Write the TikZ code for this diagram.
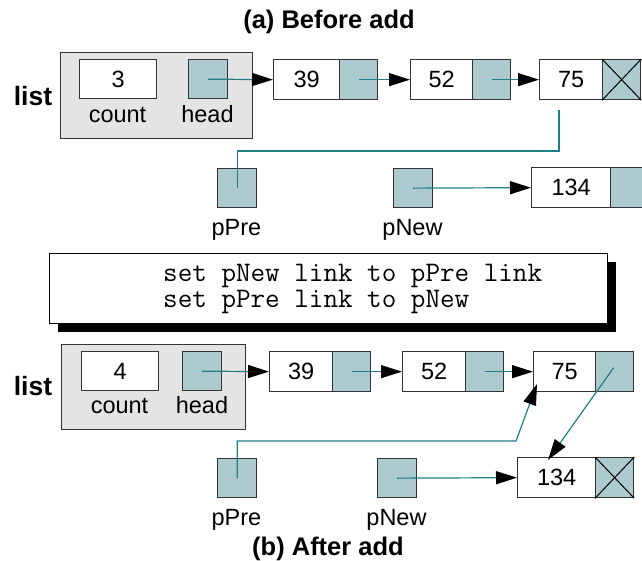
\documentclass[tikz,border=0pt]{standalone}
\usepackage{fontspec}
\setmainfont{Liberation Sans}
\usetikzlibrary{arrows.meta,shadows}
\definecolor{linecol}{HTML}{1F7F86}
\definecolor{linkfill}{HTML}{ADCBCE}
\definecolor{boxgray}{HTML}{E4E4E4}
\definecolor{edgecol}{HTML}{333333}
\tikzset{
  lab/.style={font=\fontsize{23.5}{28}\selectfont, inner sep=0pt},
  cell/.style={draw=edgecol, line width=1.3pt, fill=white, minimum height=40pt,
     inner sep=0pt, anchor=north west, font=\fontsize{23.5}{28}\selectfont},
  linkcell/.style={cell, fill=linkfill, minimum width=38pt},
  sq/.style={cell, fill=linkfill, minimum width=39pt, minimum height=39pt},
  graybox/.style={draw=edgecol, line width=1.3pt, fill=boxgray, inner sep=0pt, anchor=north west},
  ptr/.style={draw=linecol, line width=1.2pt, -{Triangle[length=21pt,width=13pt,color=black]}},
  wire/.style={draw=linecol, line width=1.2pt},
  xmark/.style={draw=black, line width=1pt},
  titl/.style={font=\bfseries\fontsize{25.5}{30}\selectfont, inner sep=0pt, anchor=base},
  listlab/.style={font=\bfseries\fontsize{26.5}{30}\selectfont, inner sep=0pt, anchor=base},
  codebox/.style={draw=black, line width=1pt, fill=white, inner sep=0pt, anchor=north west,
     drop shadow={shadow xshift=8pt, shadow yshift=-8pt, fill=black, opacity=1}},
  codetext/.style={font=\ttfamily\fontsize{28.3}{30}\selectfont, inner sep=0pt, anchor=base west}
}
\begin{document}
\begin{tikzpicture}[x=1pt,y=-1pt]
\useasboundingbox (0,0) rectangle (642,560);
\clip (0,0) rectangle (642,560);

% ---------- (a) Before add ----------
\node[titl] (titleA) at (329,28) {(a) Before add};
\node[listlab] (listA) at (33,105) {list};
\node[graybox, minimum width=192pt, minimum height=86pt] (boxA) at (60,52) {};
\node[cell, minimum width=77pt, minimum height=39pt] (countA) at (79,59) {3};
\node[sq] (headA) at (188,59) {};
\node[lab, anchor=base] (countlabA) at (117.5,122) {count};
\node[lab, anchor=base] (headlabA) at (207.5,122) {head};

\node[cell, minimum width=66pt] (d39a) at (273,59) {39};
\node[linkcell] (l39a) at (339,59) {};
\node[cell, minimum width=62pt] (d52a) at (410,59) {52};
\node[linkcell] (l52a) at (472,59) {};
\node[cell, minimum width=63pt] (d75a) at (539,59) {75};
\node[linkcell] (l75a) at (602,59) {};
\draw[xmark] (l75a.north west) -- (l75a.south east) (l75a.north east) -- (l75a.south west);

\node[sq] (pPreA) at (217,168) {};
\node[sq] (pNewA) at (393,168) {};
\node[lab, anchor=base] (pPrelabA) at (236.5,235) {pPre};
\node[lab, anchor=base] (pNewlabA) at (412.5,235) {pNew};
\node[cell, minimum width=79pt] (d134a) at (531,167) {134};
\node[linkcell] (l134a) at (610,167) {};

\draw[ptr] (headA.center) -- (d39a.west);
\draw[ptr] (l39a.center) -- (d52a.west);
\draw[ptr] (l52a.center) -- (d75a.west);
\draw[ptr] (pNewA.center) -- (d134a.west);
\coordinate (kneeA) at (559,151);
\coordinate (endA) at (559,110);
\draw[wire] (pPreA.center) |- (kneeA) -- (endA);

% ---------- code box ----------
\node[codebox, minimum width=558pt, minimum height=70pt] (code) at (49,253) {};
\node[codetext] (code1) at (163,281) {set pNew link to pPre link};
\node[codetext] (code2) at (163,307) {set pPre link to pNew};

% ---------- (b) After add ----------
\node[listlab] (listB) at (33,395) {list};
\node[graybox, minimum width=184pt, minimum height=85pt] (boxB) at (61,344) {};
\node[cell, minimum width=77pt, minimum height=39pt] (countB) at (81,351) {4};
\node[sq] (headB) at (182,351) {};
\node[lab, anchor=base] (countlabB) at (119.5,413) {count};
\node[lab, anchor=base] (headlabB) at (202,413) {head};

\node[cell, minimum width=63pt] (d39b) at (269,351) {39};
\node[linkcell] (l39b) at (332,351) {};
\node[cell, minimum width=63pt] (d52b) at (402,351) {52};
\node[linkcell] (l52b) at (465,351) {};
\node[cell, minimum width=62pt] (d75b) at (533,351) {75};
\node[linkcell] (l75b) at (595,351) {};

\node[sq] (pPreB) at (217,458) {};
\node[sq] (pNewB) at (377,458) {};
\node[lab, anchor=base] (pPrelabB) at (236.5,525) {pPre};
\node[lab, anchor=base] (pNewlabB) at (396.5,525) {pNew};
\node[cell, minimum width=78pt] (d134b) at (517,457) {134};
\node[linkcell] (l134b) at (595,457) {};
\draw[xmark] (l134b.north west) -- (l134b.south east) (l134b.north east) -- (l134b.south west);

\draw[ptr] (headB.center) -- (d39b.west);
\draw[ptr] (l39b.center) -- (d52b.west);
\draw[ptr] (l52b.center) -- (d75b.west);
\draw[ptr] (pNewB.center) -- (d134b.west);
\coordinate (kneeB) at (516,441);
\coordinate (tipB) at (537,384);
\draw[ptr] (pPreB.center) |- (kneeB) -- (tipB);
\coordinate (tipC) at (548,460);
\draw[ptr] ([shift={(-1,-4)}]l75b.center) -- (tipC);

\node[titl] (titleB) at (328,555) {(b) After add};
\end{tikzpicture}
\end{document}
